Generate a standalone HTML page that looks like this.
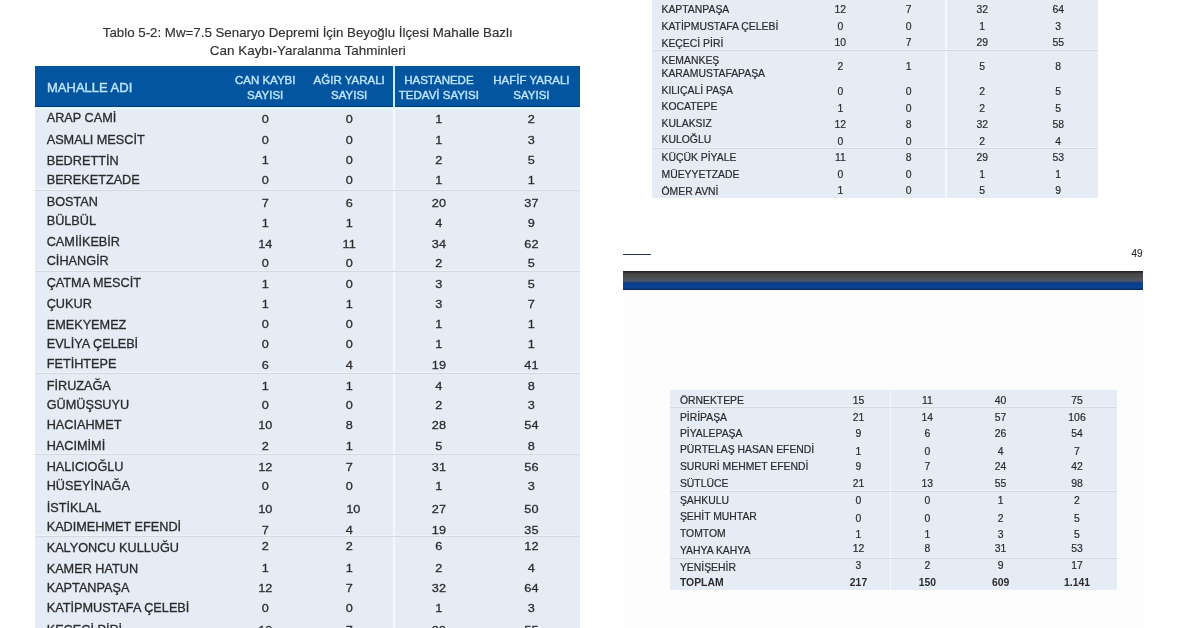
<!DOCTYPE html>
<html><head><meta charset="utf-8"><style>
*{margin:0;padding:0;box-sizing:border-box}
html,body{width:1200px;height:628px;overflow:hidden;background:#fff}
body{position:relative;font-family:"Liberation Sans",sans-serif;color:#2b2b2d}
.t{position:absolute;white-space:nowrap;line-height:1;-webkit-text-stroke:0.3px currentColor}
#w{position:absolute;left:0;top:0;width:1200px;height:628px;filter:blur(0.3px);will-change:transform}
.s{-webkit-text-stroke:0.2px currentColor}
.r{position:absolute}
.hd{color:#bfe4fb;-webkit-text-stroke:0.4px currentColor}
.b{font-weight:bold;-webkit-text-stroke:0}
.ti{color:#303030;-webkit-text-stroke:0.15px currentColor}
</style></head><body><div id="w">
<div class="t ti" style="left:7.7px;top:26.0px;width:600px;text-align:center;font-size:13.3px;">Tablo 5-2: Mw=7.5 Senaryo Depremi İçin Beyoğlu İlçesi Mahalle Bazlı</div>
<div class="t ti" style="left:7.8px;top:44.0px;width:600px;text-align:center;font-size:13.45px;">Can Kaybı-Yaralanma Tahminleri</div>
<div class="r" style="left:35px;top:66px;width:545px;height:41px;background:#03559f;border-bottom:1px solid #053a78"></div>
<div class="r" style="left:35px;top:107px;width:545px;height:3px;background:#e2f6fa"></div>
<div class="r" style="left:35px;top:110px;width:545px;height:518px;background:#e6ecf5"></div>
<div class="r" style="left:393px;top:66px;width:2px;height:41px;background:#c6ecf8"></div>
<div class="r" style="left:393px;top:107px;width:2px;height:521px;background:#f4f9fc"></div>
<div class="t hd" style="left:47.0px;top:81.0px;font-size:13.0px;">MAHALLE ADI</div>
<div class="t hd" style="left:-34.8px;top:75.0px;width:600px;text-align:center;font-size:11.5px;">CAN KAYBI</div>
<div class="t hd" style="left:-34.8px;top:90.0px;width:600px;text-align:center;font-size:11.5px;">SAYISI</div>
<div class="t hd" style="left:49.2px;top:75.0px;width:600px;text-align:center;font-size:11.5px;">AĞIR YARALI</div>
<div class="t hd" style="left:49.2px;top:90.0px;width:600px;text-align:center;font-size:11.5px;">SAYISI</div>
<div class="t hd" style="left:138.9px;top:75.0px;width:600px;text-align:center;font-size:11.5px;">HASTANEDE</div>
<div class="t hd" style="left:138.9px;top:90.0px;width:600px;text-align:center;font-size:11.5px;">TEDAVİ SAYISI</div>
<div class="t hd" style="left:231.4px;top:75.0px;width:600px;text-align:center;font-size:11.5px;">HAFİF YARALI</div>
<div class="t hd" style="left:231.4px;top:90.0px;width:600px;text-align:center;font-size:11.5px;">SAYISI</div>
<div class="r" style="left:35px;top:189px;width:545px;height:1px;background:#eef3fa"></div>
<div class="r" style="left:35px;top:190px;width:545px;height:1px;background:#d2d9e3"></div>
<div class="r" style="left:35px;top:270px;width:545px;height:1px;background:#eef3fa"></div>
<div class="r" style="left:35px;top:271px;width:545px;height:1px;background:#d2d9e3"></div>
<div class="r" style="left:35px;top:372px;width:545px;height:1px;background:#eef3fa"></div>
<div class="r" style="left:35px;top:373px;width:545px;height:1px;background:#d2d9e3"></div>
<div class="r" style="left:35px;top:453px;width:545px;height:1px;background:#eef3fa"></div>
<div class="r" style="left:35px;top:454px;width:545px;height:1px;background:#d2d9e3"></div>
<div class="r" style="left:35px;top:535px;width:545px;height:1px;background:#eef3fa"></div>
<div class="r" style="left:35px;top:536px;width:545px;height:1px;background:#d2d9e3"></div>
<div class="t " style="left:46.7px;top:112.0px;font-size:12.7px;">ARAP CAMİ</div>
<div class="t " style="left:-34.8px;top:113.0px;width:600px;text-align:center;font-size:12.7px;transform:scaleY(0.93);transform-origin:50% 10px;">0</div>
<div class="t " style="left:49.2px;top:113.0px;width:600px;text-align:center;font-size:12.7px;transform:scaleY(0.93);transform-origin:50% 10px;">0</div>
<div class="t " style="left:138.9px;top:113.0px;width:600px;text-align:center;font-size:12.7px;transform:scaleY(0.93);transform-origin:50% 10px;">1</div>
<div class="t " style="left:231.4px;top:113.0px;width:600px;text-align:center;font-size:12.7px;transform:scaleY(0.93);transform-origin:50% 10px;">2</div>
<div class="t " style="left:46.7px;top:134.0px;font-size:12.7px;">ASMALI MESCİT</div>
<div class="t " style="left:-34.8px;top:134.0px;width:600px;text-align:center;font-size:12.7px;transform:scaleY(0.93);transform-origin:50% 10px;">0</div>
<div class="t " style="left:49.2px;top:134.0px;width:600px;text-align:center;font-size:12.7px;transform:scaleY(0.93);transform-origin:50% 10px;">0</div>
<div class="t " style="left:138.9px;top:134.0px;width:600px;text-align:center;font-size:12.7px;transform:scaleY(0.93);transform-origin:50% 10px;">1</div>
<div class="t " style="left:231.4px;top:134.0px;width:600px;text-align:center;font-size:12.7px;transform:scaleY(0.93);transform-origin:50% 10px;">3</div>
<div class="t " style="left:46.7px;top:155.0px;font-size:12.7px;">BEDRETTİN</div>
<div class="t " style="left:-34.8px;top:154.0px;width:600px;text-align:center;font-size:12.7px;transform:scaleY(0.93);transform-origin:50% 10px;">1</div>
<div class="t " style="left:49.2px;top:154.0px;width:600px;text-align:center;font-size:12.7px;transform:scaleY(0.93);transform-origin:50% 10px;">0</div>
<div class="t " style="left:138.9px;top:154.0px;width:600px;text-align:center;font-size:12.7px;transform:scaleY(0.93);transform-origin:50% 10px;">2</div>
<div class="t " style="left:231.4px;top:154.0px;width:600px;text-align:center;font-size:12.7px;transform:scaleY(0.93);transform-origin:50% 10px;">5</div>
<div class="t " style="left:46.7px;top:174.0px;font-size:12.7px;">BEREKETZADE</div>
<div class="t " style="left:-34.8px;top:174.0px;width:600px;text-align:center;font-size:12.7px;transform:scaleY(0.93);transform-origin:50% 10px;">0</div>
<div class="t " style="left:49.2px;top:174.0px;width:600px;text-align:center;font-size:12.7px;transform:scaleY(0.93);transform-origin:50% 10px;">0</div>
<div class="t " style="left:138.9px;top:174.0px;width:600px;text-align:center;font-size:12.7px;transform:scaleY(0.93);transform-origin:50% 10px;">1</div>
<div class="t " style="left:231.4px;top:174.0px;width:600px;text-align:center;font-size:12.7px;transform:scaleY(0.93);transform-origin:50% 10px;">1</div>
<div class="t " style="left:46.7px;top:196.0px;font-size:12.7px;">BOSTAN</div>
<div class="t " style="left:-34.8px;top:197.0px;width:600px;text-align:center;font-size:12.7px;transform:scaleY(0.93);transform-origin:50% 10px;">7</div>
<div class="t " style="left:49.2px;top:197.0px;width:600px;text-align:center;font-size:12.7px;transform:scaleY(0.93);transform-origin:50% 10px;">6</div>
<div class="t " style="left:138.9px;top:197.0px;width:600px;text-align:center;font-size:12.7px;transform:scaleY(0.93);transform-origin:50% 10px;">20</div>
<div class="t " style="left:231.4px;top:197.0px;width:600px;text-align:center;font-size:12.7px;transform:scaleY(0.93);transform-origin:50% 10px;">37</div>
<div class="t " style="left:46.7px;top:215.0px;font-size:12.7px;">BÜLBÜL</div>
<div class="t " style="left:-34.8px;top:217.0px;width:600px;text-align:center;font-size:12.7px;transform:scaleY(0.93);transform-origin:50% 10px;">1</div>
<div class="t " style="left:49.2px;top:217.0px;width:600px;text-align:center;font-size:12.7px;transform:scaleY(0.93);transform-origin:50% 10px;">1</div>
<div class="t " style="left:138.9px;top:217.0px;width:600px;text-align:center;font-size:12.7px;transform:scaleY(0.93);transform-origin:50% 10px;">4</div>
<div class="t " style="left:231.4px;top:217.0px;width:600px;text-align:center;font-size:12.7px;transform:scaleY(0.93);transform-origin:50% 10px;">9</div>
<div class="t " style="left:46.7px;top:236.0px;font-size:12.7px;">CAMİİKEBİR</div>
<div class="t " style="left:-34.8px;top:238.0px;width:600px;text-align:center;font-size:12.7px;transform:scaleY(0.93);transform-origin:50% 10px;">14</div>
<div class="t " style="left:49.2px;top:238.0px;width:600px;text-align:center;font-size:12.7px;transform:scaleY(0.93);transform-origin:50% 10px;">11</div>
<div class="t " style="left:138.9px;top:238.0px;width:600px;text-align:center;font-size:12.7px;transform:scaleY(0.93);transform-origin:50% 10px;">34</div>
<div class="t " style="left:231.4px;top:238.0px;width:600px;text-align:center;font-size:12.7px;transform:scaleY(0.93);transform-origin:50% 10px;">62</div>
<div class="t " style="left:46.7px;top:255.0px;font-size:12.7px;">CİHANGİR</div>
<div class="t " style="left:-34.8px;top:257.0px;width:600px;text-align:center;font-size:12.7px;transform:scaleY(0.93);transform-origin:50% 10px;">0</div>
<div class="t " style="left:49.2px;top:257.0px;width:600px;text-align:center;font-size:12.7px;transform:scaleY(0.93);transform-origin:50% 10px;">0</div>
<div class="t " style="left:138.9px;top:257.0px;width:600px;text-align:center;font-size:12.7px;transform:scaleY(0.93);transform-origin:50% 10px;">2</div>
<div class="t " style="left:231.4px;top:257.0px;width:600px;text-align:center;font-size:12.7px;transform:scaleY(0.93);transform-origin:50% 10px;">5</div>
<div class="t " style="left:46.7px;top:277.0px;font-size:12.7px;">ÇATMA MESCİT</div>
<div class="t " style="left:-34.8px;top:278.0px;width:600px;text-align:center;font-size:12.7px;transform:scaleY(0.93);transform-origin:50% 10px;">1</div>
<div class="t " style="left:49.2px;top:278.0px;width:600px;text-align:center;font-size:12.7px;transform:scaleY(0.93);transform-origin:50% 10px;">0</div>
<div class="t " style="left:138.9px;top:278.0px;width:600px;text-align:center;font-size:12.7px;transform:scaleY(0.93);transform-origin:50% 10px;">3</div>
<div class="t " style="left:231.4px;top:278.0px;width:600px;text-align:center;font-size:12.7px;transform:scaleY(0.93);transform-origin:50% 10px;">5</div>
<div class="t " style="left:46.7px;top:298.0px;font-size:12.7px;">ÇUKUR</div>
<div class="t " style="left:-34.8px;top:298.0px;width:600px;text-align:center;font-size:12.7px;transform:scaleY(0.93);transform-origin:50% 10px;">1</div>
<div class="t " style="left:49.2px;top:298.0px;width:600px;text-align:center;font-size:12.7px;transform:scaleY(0.93);transform-origin:50% 10px;">1</div>
<div class="t " style="left:138.9px;top:298.0px;width:600px;text-align:center;font-size:12.7px;transform:scaleY(0.93);transform-origin:50% 10px;">3</div>
<div class="t " style="left:231.4px;top:298.0px;width:600px;text-align:center;font-size:12.7px;transform:scaleY(0.93);transform-origin:50% 10px;">7</div>
<div class="t " style="left:46.7px;top:319.0px;font-size:12.7px;">EMEKYEMEZ</div>
<div class="t " style="left:-34.8px;top:318.0px;width:600px;text-align:center;font-size:12.7px;transform:scaleY(0.93);transform-origin:50% 10px;">0</div>
<div class="t " style="left:49.2px;top:318.0px;width:600px;text-align:center;font-size:12.7px;transform:scaleY(0.93);transform-origin:50% 10px;">0</div>
<div class="t " style="left:138.9px;top:318.0px;width:600px;text-align:center;font-size:12.7px;transform:scaleY(0.93);transform-origin:50% 10px;">1</div>
<div class="t " style="left:231.4px;top:318.0px;width:600px;text-align:center;font-size:12.7px;transform:scaleY(0.93);transform-origin:50% 10px;">1</div>
<div class="t " style="left:46.7px;top:338.0px;font-size:12.7px;">EVLİYA ÇELEBİ</div>
<div class="t " style="left:-34.8px;top:338.0px;width:600px;text-align:center;font-size:12.7px;transform:scaleY(0.93);transform-origin:50% 10px;">0</div>
<div class="t " style="left:49.2px;top:338.0px;width:600px;text-align:center;font-size:12.7px;transform:scaleY(0.93);transform-origin:50% 10px;">0</div>
<div class="t " style="left:138.9px;top:338.0px;width:600px;text-align:center;font-size:12.7px;transform:scaleY(0.93);transform-origin:50% 10px;">1</div>
<div class="t " style="left:231.4px;top:338.0px;width:600px;text-align:center;font-size:12.7px;transform:scaleY(0.93);transform-origin:50% 10px;">1</div>
<div class="t " style="left:46.7px;top:358.0px;font-size:12.7px;">FETİHTEPE</div>
<div class="t " style="left:-34.8px;top:359.0px;width:600px;text-align:center;font-size:12.7px;transform:scaleY(0.93);transform-origin:50% 10px;">6</div>
<div class="t " style="left:49.2px;top:359.0px;width:600px;text-align:center;font-size:12.7px;transform:scaleY(0.93);transform-origin:50% 10px;">4</div>
<div class="t " style="left:138.9px;top:359.0px;width:600px;text-align:center;font-size:12.7px;transform:scaleY(0.93);transform-origin:50% 10px;">19</div>
<div class="t " style="left:231.4px;top:359.0px;width:600px;text-align:center;font-size:12.7px;transform:scaleY(0.93);transform-origin:50% 10px;">41</div>
<div class="t " style="left:46.7px;top:380.0px;font-size:12.7px;">FİRUZAĞA</div>
<div class="t " style="left:-34.8px;top:380.0px;width:600px;text-align:center;font-size:12.7px;transform:scaleY(0.93);transform-origin:50% 10px;">1</div>
<div class="t " style="left:49.2px;top:380.0px;width:600px;text-align:center;font-size:12.7px;transform:scaleY(0.93);transform-origin:50% 10px;">1</div>
<div class="t " style="left:138.9px;top:380.0px;width:600px;text-align:center;font-size:12.7px;transform:scaleY(0.93);transform-origin:50% 10px;">4</div>
<div class="t " style="left:231.4px;top:380.0px;width:600px;text-align:center;font-size:12.7px;transform:scaleY(0.93);transform-origin:50% 10px;">8</div>
<div class="t " style="left:46.7px;top:399.0px;font-size:12.7px;">GÜMÜŞSUYU</div>
<div class="t " style="left:-34.8px;top:399.0px;width:600px;text-align:center;font-size:12.7px;transform:scaleY(0.93);transform-origin:50% 10px;">0</div>
<div class="t " style="left:49.2px;top:399.0px;width:600px;text-align:center;font-size:12.7px;transform:scaleY(0.93);transform-origin:50% 10px;">0</div>
<div class="t " style="left:138.9px;top:399.0px;width:600px;text-align:center;font-size:12.7px;transform:scaleY(0.93);transform-origin:50% 10px;">2</div>
<div class="t " style="left:231.4px;top:399.0px;width:600px;text-align:center;font-size:12.7px;transform:scaleY(0.93);transform-origin:50% 10px;">3</div>
<div class="t " style="left:46.7px;top:419.0px;font-size:12.7px;">HACIAHMET</div>
<div class="t " style="left:-34.8px;top:419.0px;width:600px;text-align:center;font-size:12.7px;transform:scaleY(0.93);transform-origin:50% 10px;">10</div>
<div class="t " style="left:49.2px;top:419.0px;width:600px;text-align:center;font-size:12.7px;transform:scaleY(0.93);transform-origin:50% 10px;">8</div>
<div class="t " style="left:138.9px;top:419.0px;width:600px;text-align:center;font-size:12.7px;transform:scaleY(0.93);transform-origin:50% 10px;">28</div>
<div class="t " style="left:231.4px;top:419.0px;width:600px;text-align:center;font-size:12.7px;transform:scaleY(0.93);transform-origin:50% 10px;">54</div>
<div class="t " style="left:46.7px;top:440.0px;font-size:12.7px;">HACIMİMİ</div>
<div class="t " style="left:-34.8px;top:440.0px;width:600px;text-align:center;font-size:12.7px;transform:scaleY(0.93);transform-origin:50% 10px;">2</div>
<div class="t " style="left:49.2px;top:440.0px;width:600px;text-align:center;font-size:12.7px;transform:scaleY(0.93);transform-origin:50% 10px;">1</div>
<div class="t " style="left:138.9px;top:440.0px;width:600px;text-align:center;font-size:12.7px;transform:scaleY(0.93);transform-origin:50% 10px;">5</div>
<div class="t " style="left:231.4px;top:440.0px;width:600px;text-align:center;font-size:12.7px;transform:scaleY(0.93);transform-origin:50% 10px;">8</div>
<div class="t " style="left:46.7px;top:461.0px;font-size:12.7px;">HALICIOĞLU</div>
<div class="t " style="left:-34.8px;top:461.0px;width:600px;text-align:center;font-size:12.7px;transform:scaleY(0.93);transform-origin:50% 10px;">12</div>
<div class="t " style="left:49.2px;top:461.0px;width:600px;text-align:center;font-size:12.7px;transform:scaleY(0.93);transform-origin:50% 10px;">7</div>
<div class="t " style="left:138.9px;top:461.0px;width:600px;text-align:center;font-size:12.7px;transform:scaleY(0.93);transform-origin:50% 10px;">31</div>
<div class="t " style="left:231.4px;top:461.0px;width:600px;text-align:center;font-size:12.7px;transform:scaleY(0.93);transform-origin:50% 10px;">56</div>
<div class="t " style="left:46.7px;top:480.0px;font-size:12.7px;">HÜSEYİNAĞA</div>
<div class="t " style="left:-34.8px;top:480.0px;width:600px;text-align:center;font-size:12.7px;transform:scaleY(0.93);transform-origin:50% 10px;">0</div>
<div class="t " style="left:49.2px;top:480.0px;width:600px;text-align:center;font-size:12.7px;transform:scaleY(0.93);transform-origin:50% 10px;">0</div>
<div class="t " style="left:138.9px;top:480.0px;width:600px;text-align:center;font-size:12.7px;transform:scaleY(0.93);transform-origin:50% 10px;">1</div>
<div class="t " style="left:231.4px;top:480.0px;width:600px;text-align:center;font-size:12.7px;transform:scaleY(0.93);transform-origin:50% 10px;">3</div>
<div class="t " style="left:46.7px;top:502.0px;font-size:12.7px;">İSTİKLAL</div>
<div class="t " style="left:-34.8px;top:503.0px;width:600px;text-align:center;font-size:12.7px;transform:scaleY(0.93);transform-origin:50% 10px;">10</div>
<div class="t " style="left:53.2px;top:503.0px;width:600px;text-align:center;font-size:12.7px;transform:scaleY(0.93);transform-origin:50% 10px;">10</div>
<div class="t " style="left:138.9px;top:503.0px;width:600px;text-align:center;font-size:12.7px;transform:scaleY(0.93);transform-origin:50% 10px;">27</div>
<div class="t " style="left:231.4px;top:503.0px;width:600px;text-align:center;font-size:12.7px;transform:scaleY(0.93);transform-origin:50% 10px;">50</div>
<div class="t " style="left:46.7px;top:521.0px;font-size:12.7px;">KADIMEHMET EFENDİ</div>
<div class="t " style="left:-34.8px;top:524.0px;width:600px;text-align:center;font-size:12.7px;transform:scaleY(0.93);transform-origin:50% 10px;">7</div>
<div class="t " style="left:49.2px;top:524.0px;width:600px;text-align:center;font-size:12.7px;transform:scaleY(0.93);transform-origin:50% 10px;">4</div>
<div class="t " style="left:138.9px;top:524.0px;width:600px;text-align:center;font-size:12.7px;transform:scaleY(0.93);transform-origin:50% 10px;">19</div>
<div class="t " style="left:231.4px;top:524.0px;width:600px;text-align:center;font-size:12.7px;transform:scaleY(0.93);transform-origin:50% 10px;">35</div>
<div class="t " style="left:46.7px;top:542.0px;font-size:12.7px;">KALYONCU KULLUĞU</div>
<div class="t " style="left:-34.8px;top:540.0px;width:600px;text-align:center;font-size:12.7px;transform:scaleY(0.93);transform-origin:50% 10px;">2</div>
<div class="t " style="left:49.2px;top:540.0px;width:600px;text-align:center;font-size:12.7px;transform:scaleY(0.93);transform-origin:50% 10px;">2</div>
<div class="t " style="left:138.9px;top:540.0px;width:600px;text-align:center;font-size:12.7px;transform:scaleY(0.93);transform-origin:50% 10px;">6</div>
<div class="t " style="left:231.4px;top:540.0px;width:600px;text-align:center;font-size:12.7px;transform:scaleY(0.93);transform-origin:50% 10px;">12</div>
<div class="t " style="left:46.7px;top:563.0px;font-size:12.7px;">KAMER HATUN</div>
<div class="t " style="left:-34.8px;top:562.0px;width:600px;text-align:center;font-size:12.7px;transform:scaleY(0.93);transform-origin:50% 10px;">1</div>
<div class="t " style="left:49.2px;top:562.0px;width:600px;text-align:center;font-size:12.7px;transform:scaleY(0.93);transform-origin:50% 10px;">1</div>
<div class="t " style="left:138.9px;top:562.0px;width:600px;text-align:center;font-size:12.7px;transform:scaleY(0.93);transform-origin:50% 10px;">2</div>
<div class="t " style="left:231.4px;top:562.0px;width:600px;text-align:center;font-size:12.7px;transform:scaleY(0.93);transform-origin:50% 10px;">4</div>
<div class="t " style="left:46.7px;top:582.0px;font-size:12.7px;">KAPTANPAŞA</div>
<div class="t " style="left:-34.8px;top:582.0px;width:600px;text-align:center;font-size:12.7px;transform:scaleY(0.93);transform-origin:50% 10px;">12</div>
<div class="t " style="left:49.2px;top:582.0px;width:600px;text-align:center;font-size:12.7px;transform:scaleY(0.93);transform-origin:50% 10px;">7</div>
<div class="t " style="left:138.9px;top:582.0px;width:600px;text-align:center;font-size:12.7px;transform:scaleY(0.93);transform-origin:50% 10px;">32</div>
<div class="t " style="left:231.4px;top:582.0px;width:600px;text-align:center;font-size:12.7px;transform:scaleY(0.93);transform-origin:50% 10px;">64</div>
<div class="t " style="left:46.7px;top:602.0px;font-size:12.7px;">KATİPMUSTAFA ÇELEBİ</div>
<div class="t " style="left:-34.8px;top:602.0px;width:600px;text-align:center;font-size:12.7px;transform:scaleY(0.93);transform-origin:50% 10px;">0</div>
<div class="t " style="left:49.2px;top:602.0px;width:600px;text-align:center;font-size:12.7px;transform:scaleY(0.93);transform-origin:50% 10px;">0</div>
<div class="t " style="left:138.9px;top:602.0px;width:600px;text-align:center;font-size:12.7px;transform:scaleY(0.93);transform-origin:50% 10px;">1</div>
<div class="t " style="left:231.4px;top:602.0px;width:600px;text-align:center;font-size:12.7px;transform:scaleY(0.93);transform-origin:50% 10px;">3</div>
<div class="t " style="left:46.7px;top:624.0px;font-size:12.7px;">KEÇECİ PİRİ</div>
<div class="t " style="left:-34.8px;top:624.0px;width:600px;text-align:center;font-size:12.7px;transform:scaleY(0.93);transform-origin:50% 10px;">10</div>
<div class="t " style="left:49.2px;top:624.0px;width:600px;text-align:center;font-size:12.7px;transform:scaleY(0.93);transform-origin:50% 10px;">7</div>
<div class="t " style="left:138.9px;top:624.0px;width:600px;text-align:center;font-size:12.7px;transform:scaleY(0.93);transform-origin:50% 10px;">29</div>
<div class="t " style="left:231.4px;top:624.0px;width:600px;text-align:center;font-size:12.7px;transform:scaleY(0.93);transform-origin:50% 10px;">55</div>
<div class="r" style="left:652.4px;top:0px;width:445.2px;height:197.8px;background:#e6ecf5"></div>
<div class="r" style="left:945px;top:0px;width:1.6px;height:197.8px;background:#f4f9fc"></div>
<div class="r" style="left:652.4px;top:49.3px;width:445.2px;height:1px;background:#eef3fa"></div>
<div class="r" style="left:652.4px;top:50.3px;width:445.2px;height:1px;background:#d2d9e3"></div>
<div class="r" style="left:652.4px;top:147.3px;width:445.2px;height:1px;background:#eef3fa"></div>
<div class="r" style="left:652.4px;top:148.3px;width:445.2px;height:1px;background:#d2d9e3"></div>
<div class="t s" style="left:661.5px;top:5.0px;font-size:10.4px;">KAPTANPAŞA</div>
<div class="t s" style="left:540.3px;top:5.0px;width:600px;text-align:center;font-size:10.4px;">12</div>
<div class="t s" style="left:608.7px;top:5.0px;width:600px;text-align:center;font-size:10.4px;">7</div>
<div class="t s" style="left:682.2px;top:5.0px;width:600px;text-align:center;font-size:10.4px;">32</div>
<div class="t s" style="left:758.2px;top:5.0px;width:600px;text-align:center;font-size:10.4px;">64</div>
<div class="t s" style="left:661.5px;top:22.0px;font-size:10.4px;">KATİPMUSTAFA ÇELEBİ</div>
<div class="t s" style="left:540.3px;top:22.0px;width:600px;text-align:center;font-size:10.4px;">0</div>
<div class="t s" style="left:608.7px;top:22.0px;width:600px;text-align:center;font-size:10.4px;">0</div>
<div class="t s" style="left:682.2px;top:22.0px;width:600px;text-align:center;font-size:10.4px;">1</div>
<div class="t s" style="left:758.2px;top:22.0px;width:600px;text-align:center;font-size:10.4px;">3</div>
<div class="t s" style="left:661.5px;top:39.0px;font-size:10.4px;">KEÇECİ PİRİ</div>
<div class="t s" style="left:540.3px;top:38.0px;width:600px;text-align:center;font-size:10.4px;">10</div>
<div class="t s" style="left:608.7px;top:38.0px;width:600px;text-align:center;font-size:10.4px;">7</div>
<div class="t s" style="left:682.2px;top:38.0px;width:600px;text-align:center;font-size:10.4px;">29</div>
<div class="t s" style="left:758.2px;top:38.0px;width:600px;text-align:center;font-size:10.4px;">55</div>
<div class="t s" style="left:540.3px;top:62.0px;width:600px;text-align:center;font-size:10.4px;">2</div>
<div class="t s" style="left:608.7px;top:62.0px;width:600px;text-align:center;font-size:10.4px;">1</div>
<div class="t s" style="left:682.2px;top:62.0px;width:600px;text-align:center;font-size:10.4px;">5</div>
<div class="t s" style="left:758.2px;top:62.0px;width:600px;text-align:center;font-size:10.4px;">8</div>
<div class="t s" style="left:661.5px;top:86.0px;font-size:10.4px;">KILIÇALİ PAŞA</div>
<div class="t s" style="left:540.3px;top:87.0px;width:600px;text-align:center;font-size:10.4px;">0</div>
<div class="t s" style="left:608.7px;top:87.0px;width:600px;text-align:center;font-size:10.4px;">0</div>
<div class="t s" style="left:682.2px;top:87.0px;width:600px;text-align:center;font-size:10.4px;">2</div>
<div class="t s" style="left:758.2px;top:87.0px;width:600px;text-align:center;font-size:10.4px;">5</div>
<div class="t s" style="left:661.5px;top:102.0px;font-size:10.4px;">KOCATEPE</div>
<div class="t s" style="left:540.3px;top:104.0px;width:600px;text-align:center;font-size:10.4px;">1</div>
<div class="t s" style="left:608.7px;top:104.0px;width:600px;text-align:center;font-size:10.4px;">0</div>
<div class="t s" style="left:682.2px;top:104.0px;width:600px;text-align:center;font-size:10.4px;">2</div>
<div class="t s" style="left:758.2px;top:104.0px;width:600px;text-align:center;font-size:10.4px;">5</div>
<div class="t s" style="left:661.5px;top:119.0px;font-size:10.4px;">KULAKSIZ</div>
<div class="t s" style="left:540.3px;top:120.0px;width:600px;text-align:center;font-size:10.4px;">12</div>
<div class="t s" style="left:608.7px;top:120.0px;width:600px;text-align:center;font-size:10.4px;">8</div>
<div class="t s" style="left:682.2px;top:120.0px;width:600px;text-align:center;font-size:10.4px;">32</div>
<div class="t s" style="left:758.2px;top:120.0px;width:600px;text-align:center;font-size:10.4px;">58</div>
<div class="t s" style="left:661.5px;top:135.0px;font-size:10.4px;">KULOĞLU</div>
<div class="t s" style="left:540.3px;top:137.0px;width:600px;text-align:center;font-size:10.4px;">0</div>
<div class="t s" style="left:608.7px;top:137.0px;width:600px;text-align:center;font-size:10.4px;">0</div>
<div class="t s" style="left:682.2px;top:137.0px;width:600px;text-align:center;font-size:10.4px;">2</div>
<div class="t s" style="left:758.2px;top:137.0px;width:600px;text-align:center;font-size:10.4px;">4</div>
<div class="t s" style="left:661.5px;top:153.0px;font-size:10.4px;">KÜÇÜK PİYALE</div>
<div class="t s" style="left:540.3px;top:153.0px;width:600px;text-align:center;font-size:10.4px;">11</div>
<div class="t s" style="left:608.7px;top:153.0px;width:600px;text-align:center;font-size:10.4px;">8</div>
<div class="t s" style="left:682.2px;top:153.0px;width:600px;text-align:center;font-size:10.4px;">29</div>
<div class="t s" style="left:758.2px;top:153.0px;width:600px;text-align:center;font-size:10.4px;">53</div>
<div class="t s" style="left:661.5px;top:170.0px;font-size:10.4px;">MÜEYYETZADE</div>
<div class="t s" style="left:540.3px;top:170.0px;width:600px;text-align:center;font-size:10.4px;">0</div>
<div class="t s" style="left:608.7px;top:170.0px;width:600px;text-align:center;font-size:10.4px;">0</div>
<div class="t s" style="left:682.2px;top:170.0px;width:600px;text-align:center;font-size:10.4px;">1</div>
<div class="t s" style="left:758.2px;top:170.0px;width:600px;text-align:center;font-size:10.4px;">1</div>
<div class="t s" style="left:661.5px;top:187.0px;font-size:10.4px;">ÖMER AVNİ</div>
<div class="t s" style="left:540.3px;top:186.0px;width:600px;text-align:center;font-size:10.4px;">1</div>
<div class="t s" style="left:608.7px;top:186.0px;width:600px;text-align:center;font-size:10.4px;">0</div>
<div class="t s" style="left:682.2px;top:186.0px;width:600px;text-align:center;font-size:10.4px;">5</div>
<div class="t s" style="left:758.2px;top:186.0px;width:600px;text-align:center;font-size:10.4px;">9</div>
<div class="t s" style="left:661.5px;top:56.0px;font-size:10.4px;">KEMANKEŞ</div>
<div class="t s" style="left:661.5px;top:69.0px;font-size:10.4px;">KARAMUSTAFAPAŞA</div>
<div class="r" style="left:623px;top:253.7px;width:28.3px;height:1.5px;background:#22365f"></div>
<div class="t ti" style="left:1131.4px;top:249.0px;font-size:10.0px;">49</div>
<div class="r" style="left:623px;top:271px;width:520px;height:19.3px;background:linear-gradient(to bottom,#1b1b1d 0px,#2e2e30 1px,#454647 3px,#4a4b4b 5.5px,#4b5150 7px,#4a5570 10.2px,#1c3c78 11.4px,#0a3f89 12.6px,#0b4290 17px,#0a2a5c 18.3px,#0f2f66 19.3px)"></div>
<div class="r" style="left:623px;top:290.3px;width:520px;height:338px;background:#fdfdfe"></div>
<div class="r" style="left:670.4px;top:389.6px;width:446.4px;height:200.5px;background:#e6ecf5"></div>
<div class="r" style="left:889.5px;top:389.6px;width:1.6px;height:200.5px;background:#f4f9fc"></div>
<div class="r" style="left:670.4px;top:406.4px;width:446.4px;height:1px;background:#eef3fa"></div>
<div class="r" style="left:670.4px;top:407.4px;width:446.4px;height:1px;background:#d2d9e3"></div>
<div class="r" style="left:670.4px;top:489.7px;width:446.4px;height:1px;background:#eef3fa"></div>
<div class="r" style="left:670.4px;top:490.7px;width:446.4px;height:1px;background:#d2d9e3"></div>
<div class="r" style="left:670.4px;top:556.5px;width:446.4px;height:1px;background:#eef3fa"></div>
<div class="r" style="left:670.4px;top:557.5px;width:446.4px;height:1px;background:#d2d9e3"></div>
<div class="t s" style="left:679.9px;top:396.0px;font-size:10.4px;">ÖRNEKTEPE</div>
<div class="t s" style="left:558.5px;top:396.0px;width:600px;text-align:center;font-size:10.4px;">15</div>
<div class="t s" style="left:627.3px;top:396.0px;width:600px;text-align:center;font-size:10.4px;">11</div>
<div class="t s" style="left:700.6px;top:396.0px;width:600px;text-align:center;font-size:10.4px;">40</div>
<div class="t s" style="left:777.0px;top:396.0px;width:600px;text-align:center;font-size:10.4px;">75</div>
<div class="t s" style="left:679.9px;top:413.0px;font-size:10.4px;">PİRİPAŞA</div>
<div class="t s" style="left:558.5px;top:413.0px;width:600px;text-align:center;font-size:10.4px;">21</div>
<div class="t s" style="left:627.3px;top:413.0px;width:600px;text-align:center;font-size:10.4px;">14</div>
<div class="t s" style="left:700.6px;top:413.0px;width:600px;text-align:center;font-size:10.4px;">57</div>
<div class="t s" style="left:777.0px;top:413.0px;width:600px;text-align:center;font-size:10.4px;">106</div>
<div class="t s" style="left:679.9px;top:429.0px;font-size:10.4px;">PİYALEPAŞA</div>
<div class="t s" style="left:558.5px;top:429.0px;width:600px;text-align:center;font-size:10.4px;">9</div>
<div class="t s" style="left:627.3px;top:429.0px;width:600px;text-align:center;font-size:10.4px;">6</div>
<div class="t s" style="left:700.6px;top:429.0px;width:600px;text-align:center;font-size:10.4px;">26</div>
<div class="t s" style="left:777.0px;top:429.0px;width:600px;text-align:center;font-size:10.4px;">54</div>
<div class="t s" style="left:679.9px;top:445.0px;font-size:10.4px;">PÜRTELAŞ HASAN EFENDİ</div>
<div class="t s" style="left:558.5px;top:447.0px;width:600px;text-align:center;font-size:10.4px;">1</div>
<div class="t s" style="left:627.3px;top:447.0px;width:600px;text-align:center;font-size:10.4px;">0</div>
<div class="t s" style="left:700.6px;top:447.0px;width:600px;text-align:center;font-size:10.4px;">4</div>
<div class="t s" style="left:777.0px;top:447.0px;width:600px;text-align:center;font-size:10.4px;">7</div>
<div class="t s" style="left:679.9px;top:462.0px;font-size:10.4px;">SURURİ MEHMET EFENDİ</div>
<div class="t s" style="left:558.5px;top:462.0px;width:600px;text-align:center;font-size:10.4px;">9</div>
<div class="t s" style="left:627.3px;top:462.0px;width:600px;text-align:center;font-size:10.4px;">7</div>
<div class="t s" style="left:700.6px;top:462.0px;width:600px;text-align:center;font-size:10.4px;">24</div>
<div class="t s" style="left:777.0px;top:462.0px;width:600px;text-align:center;font-size:10.4px;">42</div>
<div class="t s" style="left:679.9px;top:479.0px;font-size:10.4px;">SÜTLÜCE</div>
<div class="t s" style="left:558.5px;top:479.0px;width:600px;text-align:center;font-size:10.4px;">21</div>
<div class="t s" style="left:627.3px;top:479.0px;width:600px;text-align:center;font-size:10.4px;">13</div>
<div class="t s" style="left:700.6px;top:479.0px;width:600px;text-align:center;font-size:10.4px;">55</div>
<div class="t s" style="left:777.0px;top:479.0px;width:600px;text-align:center;font-size:10.4px;">98</div>
<div class="t s" style="left:679.9px;top:496.0px;font-size:10.4px;">ŞAHKULU</div>
<div class="t s" style="left:558.5px;top:496.0px;width:600px;text-align:center;font-size:10.4px;">0</div>
<div class="t s" style="left:627.3px;top:496.0px;width:600px;text-align:center;font-size:10.4px;">0</div>
<div class="t s" style="left:700.6px;top:496.0px;width:600px;text-align:center;font-size:10.4px;">1</div>
<div class="t s" style="left:777.0px;top:496.0px;width:600px;text-align:center;font-size:10.4px;">2</div>
<div class="t s" style="left:679.9px;top:512.0px;font-size:10.4px;">ŞEHİT MUHTAR</div>
<div class="t s" style="left:558.5px;top:514.0px;width:600px;text-align:center;font-size:10.4px;">0</div>
<div class="t s" style="left:627.3px;top:514.0px;width:600px;text-align:center;font-size:10.4px;">0</div>
<div class="t s" style="left:700.6px;top:514.0px;width:600px;text-align:center;font-size:10.4px;">2</div>
<div class="t s" style="left:777.0px;top:514.0px;width:600px;text-align:center;font-size:10.4px;">5</div>
<div class="t s" style="left:679.9px;top:529.0px;font-size:10.4px;">TOMTOM</div>
<div class="t s" style="left:558.5px;top:530.0px;width:600px;text-align:center;font-size:10.4px;">1</div>
<div class="t s" style="left:627.3px;top:530.0px;width:600px;text-align:center;font-size:10.4px;">1</div>
<div class="t s" style="left:700.6px;top:530.0px;width:600px;text-align:center;font-size:10.4px;">3</div>
<div class="t s" style="left:777.0px;top:530.0px;width:600px;text-align:center;font-size:10.4px;">5</div>
<div class="t s" style="left:679.9px;top:546.0px;font-size:10.4px;">YAHYA KAHYA</div>
<div class="t s" style="left:558.5px;top:544.0px;width:600px;text-align:center;font-size:10.4px;">12</div>
<div class="t s" style="left:627.3px;top:544.0px;width:600px;text-align:center;font-size:10.4px;">8</div>
<div class="t s" style="left:700.6px;top:544.0px;width:600px;text-align:center;font-size:10.4px;">31</div>
<div class="t s" style="left:777.0px;top:544.0px;width:600px;text-align:center;font-size:10.4px;">53</div>
<div class="t s" style="left:679.9px;top:563.0px;font-size:10.4px;">YENİŞEHİR</div>
<div class="t s" style="left:558.5px;top:561.0px;width:600px;text-align:center;font-size:10.4px;">3</div>
<div class="t s" style="left:627.3px;top:561.0px;width:600px;text-align:center;font-size:10.4px;">2</div>
<div class="t s" style="left:700.6px;top:561.0px;width:600px;text-align:center;font-size:10.4px;">9</div>
<div class="t s" style="left:777.0px;top:561.0px;width:600px;text-align:center;font-size:10.4px;">17</div>
<div class="t b" style="left:679.9px;top:578.0px;font-size:10.4px;">TOPLAM</div>
<div class="t b" style="left:558.5px;top:578.0px;width:600px;text-align:center;font-size:10.4px;">217</div>
<div class="t b" style="left:627.3px;top:578.0px;width:600px;text-align:center;font-size:10.4px;">150</div>
<div class="t b" style="left:700.6px;top:578.0px;width:600px;text-align:center;font-size:10.4px;">609</div>
<div class="t b" style="left:777.0px;top:578.0px;width:600px;text-align:center;font-size:10.4px;">1.141</div>
</div></body></html>
